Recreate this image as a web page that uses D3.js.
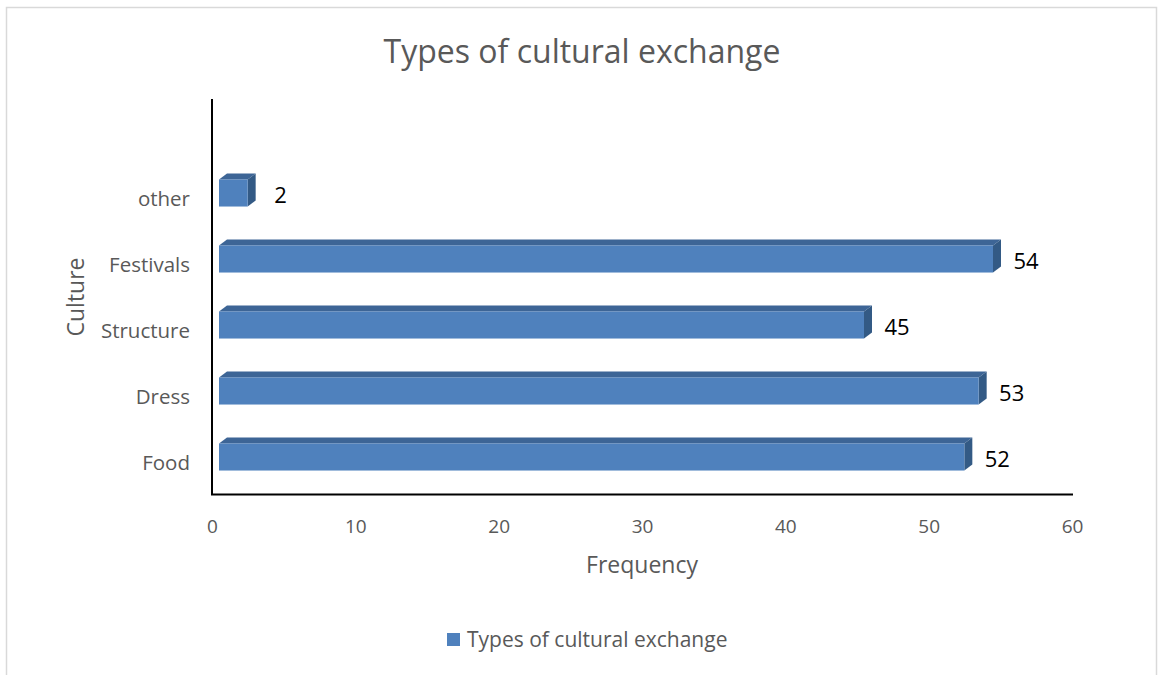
<!DOCTYPE html>
<html>
<head>
<meta charset="utf-8">
<script src="https://cdn.jsdelivr.net/npm/d3@7"></script>
<style>
  html, body { margin: 0; padding: 0; background: #ffffff; }
  svg { display: block; font-family: "Open Sans", "Liberation Sans", sans-serif; }
</style>
</head>
<body>
<svg id="chart" width="1158" height="675"></svg>
<script>
// Chart data
const categories = ["Food", "Dress", "Structure", "Festivals", "other"];
const frequencies = [52, 53, 45, 54, 2];
const xTicks = [0, 10, 20, 30, 40, 50, 60];
const chartTitle = "Types of cultural exchange";
const seriesName = "Types of cultural exchange";
const xTitle = "Frequency";
const yTitle = "Culture";

const W = 1158, H = 675;
const svg = d3.select("#chart");

// Outer chart-area border
svg.append("rect")
  .attr("x", 6.5).attr("y", 7.5)
  .attr("width", 1150).attr("height", 700)
  .attr("fill", "#ffffff")
  .attr("stroke", "#d9d9d9").attr("stroke-width", 1.5);

// Scales
const x = d3.scaleLinear().domain([0, 60]).range([212, 1072]);
const y = d3.scaleBand()
  .domain(categories.slice().reverse())
  .range([160, 490]);

// 3D extrusion of each bar
const depthX = 8, depthY = -6;
const shiftX = 7;             // front face offset from the axis floor
const barH = y.step() * 0.41;

const colFront = "#4f81bd", colTop = "#3d6596", colSide = "#335a85";

const rows = categories.map((c, i) => ({ cat: c, val: frequencies[i] }));

const bars = svg.append("g").selectAll("g.bar").data(rows).join("g").attr("class", "bar");

bars.each(function(d) {
  const g = d3.select(this);
  const cy = y(d.cat) + y.bandwidth() / 2;
  const x0 = x(0) + shiftX, x1 = x(d.val) + shiftX;
  const y0 = cy - barH / 2, y1 = cy + barH / 2;
  // top face
  g.append("path")
    .attr("d", `M${x0},${y0} L${x0 + depthX},${y0 + depthY} L${x1 + depthX},${y0 + depthY} L${x1},${y0} Z`)
    .attr("fill", colTop);
  // side face
  g.append("path")
    .attr("d", `M${x1},${y0} L${x1 + depthX},${y0 + depthY} L${x1 + depthX},${y1 + depthY} L${x1},${y1} Z`)
    .attr("fill", colSide);
  // front face
  g.append("rect")
    .attr("x", x0).attr("y", y0)
    .attr("width", x1 - x0).attr("height", y1 - y0)
    .attr("fill", colFront);
  // value label
  g.append("text")
    .attr("x", x(d.val) + 40)
    .attr("y", cy + 1)
    .attr("text-anchor", "middle")
    .attr("dominant-baseline", "central")
    .attr("font-size", 22)
    .attr("fill", "#000000")
    .text(d.val);
});

// Axes lines
svg.append("line")
  .attr("x1", x(0)).attr("x2", x(0))
  .attr("y1", 99).attr("y2", 495)
  .attr("stroke", "#000").attr("stroke-width", 2);
svg.append("line")
  .attr("x1", x(0) - 1).attr("x2", x(60) + 1)
  .attr("y1", 494.5).attr("y2", 494.5)
  .attr("stroke", "#000").attr("stroke-width", 2);

// X tick labels
const xAxis = d3.axisBottom(x).tickValues(xTicks).tickSize(0).tickPadding(0);
const gx = svg.append("g").attr("transform", "translate(0,519)").call(xAxis);
gx.select(".domain").remove();
gx.selectAll("text")
  .attr("font-family", "\"Open Sans\", sans-serif")
  .attr("font-size", 19)
  .attr("fill", "#595959");

// Y category labels
const yAxis = d3.axisLeft(y).tickSize(0).tickPadding(0);
const gy = svg.append("g").attr("transform", "translate(190,6)").call(yAxis);
gy.select(".domain").remove();
gy.selectAll("text")
  .attr("font-family", "\"Open Sans\", sans-serif")
  .attr("font-size", 20.5)
  .attr("fill", "#595959");

// Title
svg.append("text")
  .attr("x", 582).attr("y", 63)
  .attr("text-anchor", "middle")
  .attr("font-size", 32)
  .attr("fill", "#595959")
  .text(chartTitle);

// Axis titles
svg.append("text")
  .attr("x", 642).attr("y", 573)
  .attr("text-anchor", "middle")
  .attr("font-size", 23)
  .attr("fill", "#595959")
  .text(xTitle);
svg.append("text")
  .attr("transform", "translate(84,297) rotate(-90)")
  .attr("text-anchor", "middle")
  .attr("font-size", 23)
  .attr("fill", "#595959")
  .text(yTitle);

// Legend
const legend = svg.append("g").attr("transform", "translate(447,633)");
legend.append("rect")
  .attr("width", 13).attr("height", 13)
  .attr("fill", colFront);
legend.append("text")
  .attr("x", 20).attr("y", 14)
  .attr("font-size", 21)
  .attr("fill", "#595959")
  .text(seriesName);
</script>
</body>
</html>
